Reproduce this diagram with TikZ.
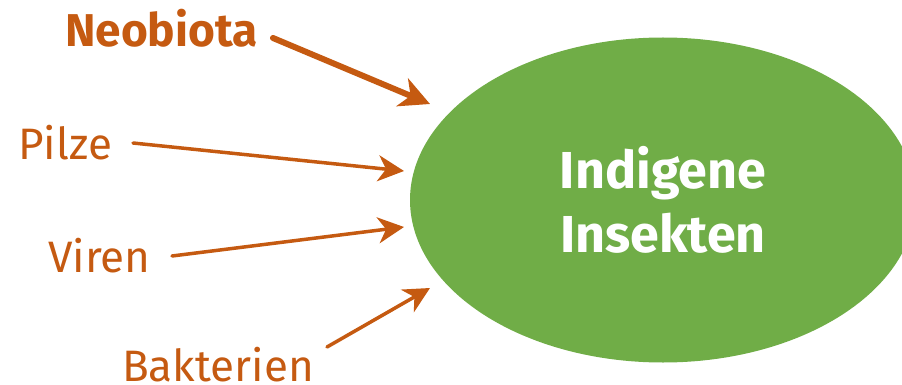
\documentclass[tikz,border=0pt]{standalone}
\usepackage{fontspec}
\setmainfont{Fira Sans}
\usetikzlibrary{shapes.geometric,arrows.meta}
\definecolor{rust}{HTML}{C55A11}
\definecolor{leaf}{HTML}{70AD47}
\tikzset{
  lbl/.style={text=rust, font=\fontsize{44}{50}\selectfont, inner sep=0pt, anchor=base west},
  arr/.style={draw=rust, line width=3.5pt, -{Stealth[length=26pt,width=26pt,inset=8pt]}},
  thickarr/.style={draw=rust, line width=6pt, -{Stealth[length=30pt,width=30pt,inset=9pt]}},
}
\begin{document}
\begin{tikzpicture}[x=1pt,y=-1pt]
\useasboundingbox (0,0) rectangle (902,385);
\node[ellipse, fill=leaf, minimum width=506pt, minimum height=325pt, inner sep=0pt] (ins) at (663,200) {};
\node[text=white, font=\bfseries\fontsize{52}{64}\selectfont, align=center] (t) at (663,200) {Indigene\\Insekten};
\node[lbl, font=\bfseries\fontsize{46}{50}\selectfont] (neo) at (65,47) {Neobiota};
\node[lbl] (pil) at (18,160) {Pilze};
\node[lbl] (vir) at (48,272) {Viren};
\node[lbl] (bak) at (122,381) {Bakterien};
\coordinate (neoS) at (273,38);
\coordinate (neoT) at (430,104);
\coordinate (pilS) at (133,143);
\coordinate (pilT) at (404,171);
\coordinate (virS) at (172,256);
\coordinate (virT) at (404,227);
\coordinate (bakS) at (327,347);
\coordinate (bakT) at (430,288);
\draw[thickarr, line cap=round] (neoS) -- (neoT);
\draw[arr, line cap=round] (pilS) -- (pilT);
\draw[arr, line cap=round] (virS) -- (virT);
\draw[arr, line cap=round] (bakS) -- (bakT);
\end{tikzpicture}
\end{document}
